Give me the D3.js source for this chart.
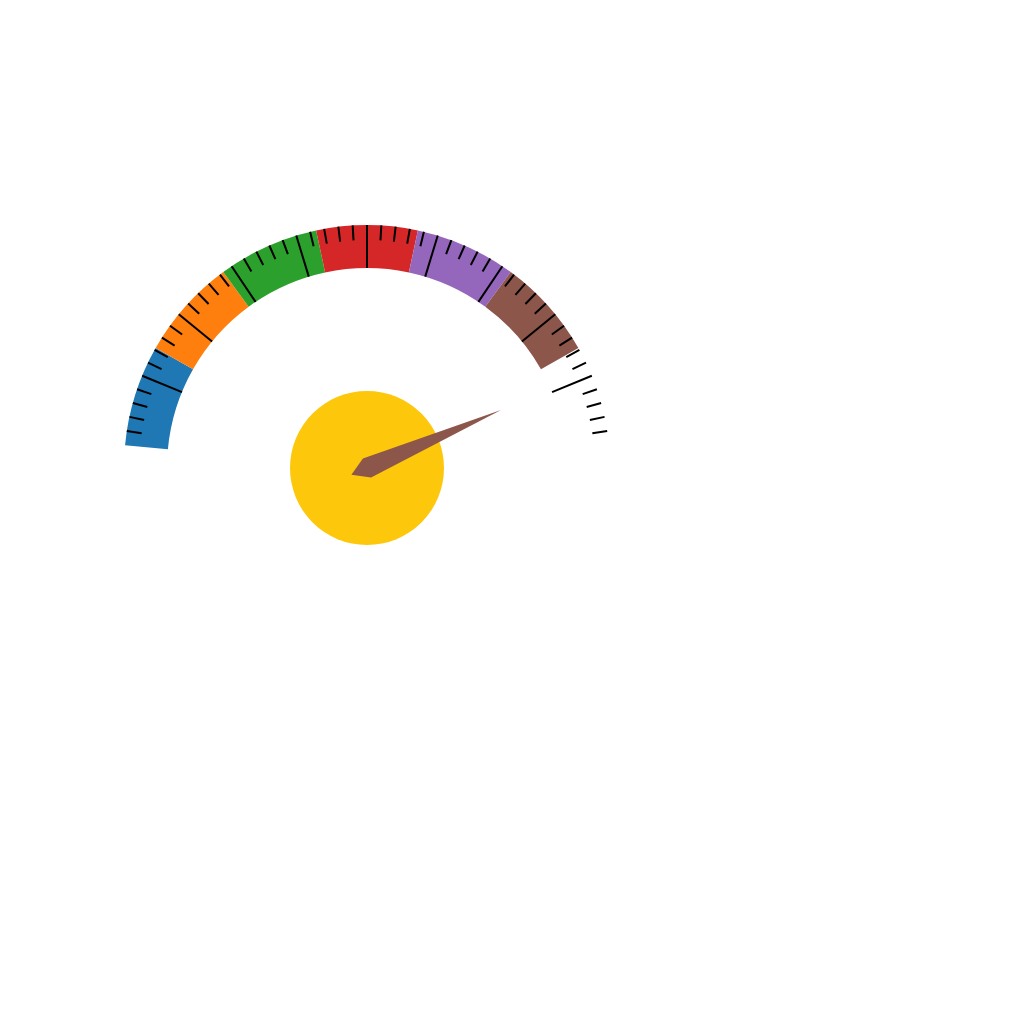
<!DOCTYPE html>
<html>
<head>
<meta charset="utf-8">
<script src="https://d3js.org/d3.v7.min.js"></script>
<style>
  html, body { margin: 0; padding: 0; background: #fff; }
  svg { display: block; }
</style>
</head>
<body>
<svg id="chart" width="1024" height="1024"></svg>
<script>
// ---- data ----
const segmentStarts = [0, 14.29, 28.57, 42.86, 57.14, 71.43];
const segmentEnds   = [14.29, 28.57, 42.86, 57.14, 71.43, 85.71];
const segmentColors = ["#1f77b4", "#ff7f0e", "#2ca02c", "#d62728", "#9467bd", "#8c564b"];
const majorTickValues = [10, 20, 30, 40, 50, 60, 70, 80, 90];
const minorTickValues = [2,4,6,8,12,14,16,18,22,24,26,28,32,34,36,38,42,44,46,48,
                         52,54,56,58,62,64,66,68,72,74,76,78,82,84,86,88,92,94,96,98];
const needleValue = 89.35;

// ---- layout ----
const cx = 367, cy = 468;
const rOuter = 243, rInner = 200, rMinor = 228;
const hubR = 77;

const svg = d3.select("#chart");
const g = svg.append("g").attr("transform", `translate(${cx},${cy})`);

const angle = d3.scaleLinear().domain([0, 100]).range([-84.625, 84.625]);
const rad = v => angle(v) * Math.PI / 180;

const arc = d3.arc().innerRadius(rInner).outerRadius(rOuter);

g.selectAll("path.seg")
  .data(segmentStarts.map((s, i) => ({ s, e: segmentEnds[i], c: segmentColors[i] })))
  .join("path")
  .attr("class", "seg")
  .attr("d", d => arc({ startAngle: rad(d.s), endAngle: rad(d.e) }))
  .attr("fill", d => d.c);

const ticks = majorTickValues.map(v => ({ v, r0: rInner, r1: rOuter }))
  .concat(minorTickValues.map(v => ({ v, r0: rMinor, r1: rOuter })));

g.selectAll("line.tick")
  .data(ticks)
  .join("line")
  .attr("class", "tick")
  .attr("x1", d => d.r0 * Math.sin(rad(d.v)))
  .attr("y1", d => -d.r0 * Math.cos(rad(d.v)))
  .attr("x2", d => d.r1 * Math.sin(rad(d.v)))
  .attr("y2", d => -d.r1 * Math.cos(rad(d.v)))
  .attr("stroke", "#000")
  .attr("stroke-width", 2);

g.append("circle")
  .attr("r", hubR)
  .attr("fill", "#fdc70c");

// needle: defined pointing up, rotated to value
const needleShape = [[0, 17], [-10.3, 0], [0, -146], [10.3, 0]];
g.append("path")
  .attr("d", d3.line()(needleShape) + "Z")
  .attr("transform", `rotate(${angle(needleValue)})`)
  .attr("fill", "#8c564b");
</script>
</body>
</html>
